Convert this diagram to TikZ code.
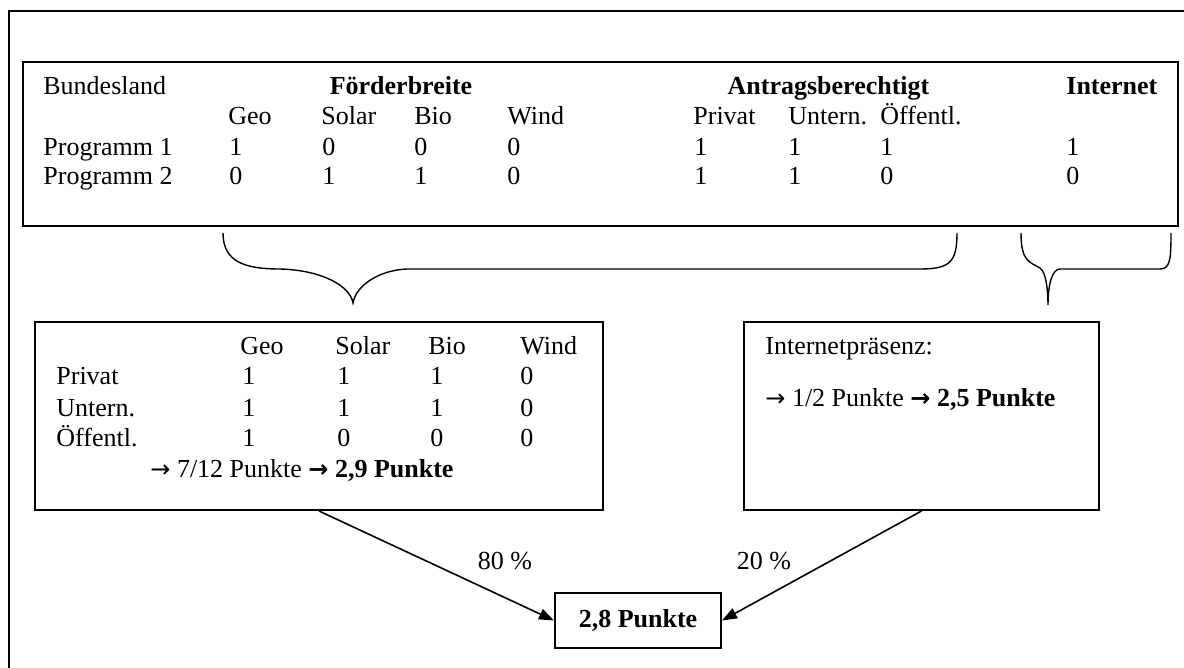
\documentclass[tikz,border=0pt]{standalone}
\usepackage{fontspec}
\setmainfont{Liberation Serif}
\newfontfamily\pfeilfont{DejaVu Sans}
\newcommand{\pf}{{\pfeilfont\fontsize{12}{14}\selectfont →}}
\usetikzlibrary{arrows.meta}
\tikzset{
  kasten/.style={draw, line width=1pt, inner sep=0pt},
  txt/.style={anchor=base west, inner sep=0pt, font=\fontsize{13}{15}\selectfont},
  kopf/.style={txt, font=\fontsize{13}{15}\selectfont\bfseries},
  pfeil/.style={-{Triangle[length=7.5pt,width=5.5pt]}, line width=0.8pt},
  klammer/.style={line width=0.7pt},
}

\begin{document}
\begin{tikzpicture}[x=0.5pt,y=-0.5pt]
  \useasboundingbox (0,0) rectangle (1184,668);
  \clip (0,0) rectangle (1184,668);
  % Rahmen
  \draw[line width=1pt] (9,11) rectangle (1200,690);

  % obere Tabelle
  \node[kasten, minimum width=577.5pt, minimum height=82pt] (tab) at (600.5,144) {};
  \node[txt] (bl) at (43,95) {Bundesland};
  \node[kopf, anchor=base] (foerd) at (401,95) {Förderbreite};
  \node[kopf, anchor=base] (antr) at (828.5,95) {Antragsberechtigt};
  \node[kopf] (inet) at (1066,95) {Internet};
  \foreach \x/\t [count=\i] in {228/Geo,321/Solar,414/Bio,507/Wind,693/Privat,788/Untern.,880/Öffentl.}
    \node[txt] (sp-\i) at (\x,125) {\t};
  \node[txt] (p1) at (43,156) {Programm 1};
  \node[txt] (p2) at (43,185) {Programm 2};
  \foreach \x/\a/\b [count=\i] in {229/1/0,322/0/1,414/0/1,507/0/0,694/1/1,788/1/1,880/1/0,1066/1/0}
  {
    \node[txt] (p1-\i) at (\x,156) {\a};
    \node[txt] (p2-\i) at (\x,185) {\b};
  }

  % Klammern
  \draw[klammer] (223,233) .. controls (223,262) and (245,269) .. (280,269)
    .. controls (320,270) and (350,285) .. (353,303)
    .. controls (356,285) and (380,270) .. (407,269) -- (920,269)
    .. controls (950,269) and (957,262) .. (957,233);
  \draw[klammer] (1021,233) .. controls (1021,262) and (1030,262) .. (1040,268)
    .. controls (1046,272) and (1048,290) .. (1048,305)
    .. controls (1048,285) and (1052,269) .. (1060,269) -- (1160,269)
    .. controls (1170,269) and (1171,260) .. (1171,233);

  % linke Matrix
  \node[kasten, minimum width=284pt, minimum height=94pt] (links) at (319,416) {};
  \foreach \x/\t [count=\i] in {240/Geo,335/Solar,428/Bio,520/Wind}
    \node[txt] (lk-\i) at (\x,355) {\t};
  \foreach \y/\t/\a/\b/\c/\d [count=\j] in {385/Privat/1/1/1/0,416/Untern./1/1/1/0,446/Öffentl./1/0/0/0}
  {
    \node[txt] (lz-\j) at (56,\y) {\t};
    \node[txt] (lw-\j-1) at (242,\y) {\a};
    \node[txt] (lw-\j-2) at (337,\y) {\b};
    \node[txt] (lw-\j-3) at (430,\y) {\c};
    \node[txt] (lw-\j-4) at (520,\y) {\d};
  }
  \node[txt] (lres) at (150,477) {\pf{} 7/12 Punkte \textbf{\pf{} 2,9 Punkte}};

  % rechte Box
  \node[kasten, minimum width=177.5pt, minimum height=94pt] (rechts) at (921.5,416) {};
  \node[txt] (ip) at (765,355) {Internetpräsenz:};
  \node[txt] (rres) at (765,407) {\pf{} 1/2 Punkte \textbf{\pf{} 2,5 Punkte}};

  % Ergebnis
  \node[kasten, minimum width=83pt, minimum height=27.5pt,
    font=\fontsize{13}{15}\selectfont\bfseries] (erg) at (638,620.5) {2,8 Punkte};
  \draw[pfeil] (links.south) -- (erg.west);
  \draw[pfeil] (rechts.south) -- (erg.east);
  \node[txt, anchor=center] (g80) at (505,561) {80 \%};
  \node[txt, anchor=center] (g20) at (764,561) {20 \%};
\end{tikzpicture}
\end{document}
